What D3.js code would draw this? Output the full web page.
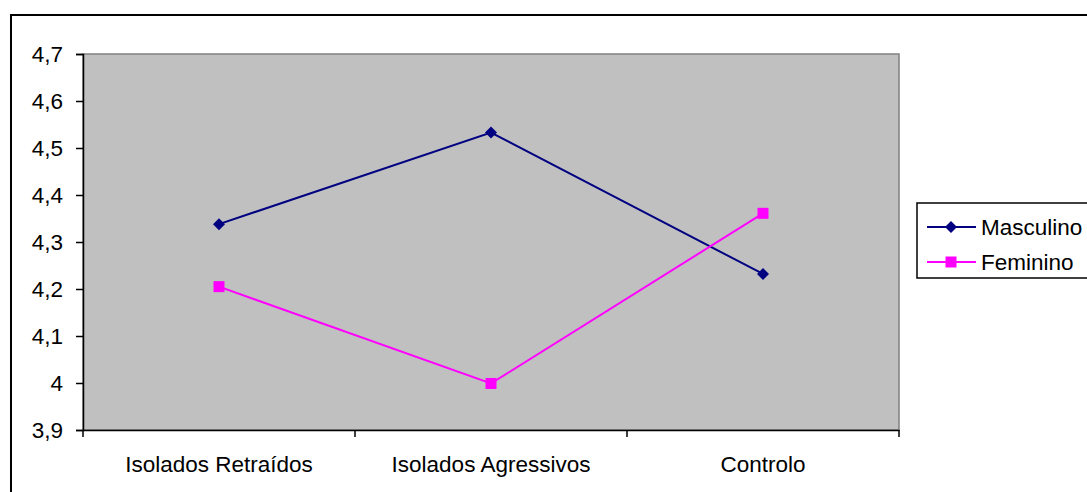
<!DOCTYPE html>
<html><head><meta charset="utf-8">
<script src="https://cdn.jsdelivr.net/npm/d3@7"></script>
<style>body{margin:0;background:#fff;}svg{display:block;font-family:"Liberation Sans",Arial,sans-serif;}</style>
</head><body>
<script>
const categories = ["Isolados Retraídos", "Isolados Agressivos", "Controlo"];
const masculino = [4.338, 4.533, 4.232];
const feminino = [4.205, 3.999, 4.361];
const yTicks = [3.9, 4.0, 4.1, 4.2, 4.3, 4.4, 4.5, 4.6, 4.7];
const seriesNames = ["Masculino", "Feminino"];

const W = 1087, H = 492;
const svg = d3.select("body").append("svg").attr("width", W).attr("height", H);
svg.append("rect").attr("x", 11).attr("y", 15).attr("width", W).attr("height", H).attr("fill", "#fff").attr("stroke", "#000").attr("stroke-width", 2);

const L = 83, R = 899, T = 54, B = 430;
const x = d3.scaleBand().domain(categories).range([L, R]);
const y = d3.scaleLinear().domain([3.9, 4.7]).range([B, T]);
const FS = 22.5;

svg.append("rect").attr("x", L).attr("y", T).attr("width", R - L).attr("height", B - T).attr("fill", "#c0c0c0").attr("stroke", "#808080").attr("stroke-width", 1.5);

const fmt = d => d3.format(".1f")(d).replace(".0", "").replace(".", ",");
const yAxis = svg.append("g").attr("transform", `translate(${L},0)`)
  .call(d3.axisLeft(y).tickValues(yTicks).tickFormat(fmt).tickSize(7).tickPadding(13));
yAxis.select(".domain").attr("stroke", "#000").attr("stroke-width", 1.5);
yAxis.selectAll("line").attr("stroke", "#000").attr("stroke-width", 1.5);
yAxis.selectAll("text").attr("font-size", FS).attr("fill", "#000").attr("font-family", "Liberation Sans, Arial, sans-serif");

const xAxis = svg.append("g").attr("transform", `translate(0,${B})`)
  .call(d3.axisBottom(x).tickSize(0).tickPadding(26));
xAxis.select(".domain").attr("stroke", "#000").attr("stroke-width", 1.5);
xAxis.selectAll("text").attr("font-size", FS).attr("fill", "#000").attr("font-family", "Liberation Sans, Arial, sans-serif");
// boundary ticks
const bounds = categories.map(c => x(c)).concat([R]);
svg.append("g").selectAll("line").data(bounds).join("line")
  .attr("x1", d => d).attr("x2", d => d).attr("y1", B).attr("y2", B + 7)
  .attr("stroke", "#000").attr("stroke-width", 1.5);

const cx = c => x(c) + x.bandwidth() / 2;
const line = d3.line().x((d, i) => cx(categories[i])).y(d => y(d));

svg.append("path").datum(masculino).attr("d", line).attr("fill", "none").attr("stroke", "#000080").attr("stroke-width", 2);
svg.append("path").datum(feminino).attr("d", line).attr("fill", "none").attr("stroke", "#ff00ff").attr("stroke-width", 2);

const diamond = (g, px, py, s) => g.append("path").attr("d", `M${px},${py - s}L${px + s},${py}L${px},${py + s}L${px - s},${py}Z`).attr("fill", "#000080");
masculino.forEach((v, i) => diamond(svg, cx(categories[i]), y(v), 6));
svg.selectAll(".sq").data(feminino).join("rect").attr("class", "sq")
  .attr("x", (d, i) => cx(categories[i]) - 5.5).attr("y", d => y(d) - 5.5)
  .attr("width", 11).attr("height", 11).attr("fill", "#ff00ff");

// legend
const lg = svg.append("g");
lg.append("rect").attr("x", 917).attr("y", 203).attr("width", 180).attr("height", 75).attr("fill", "#fff").attr("stroke", "#000").attr("stroke-width", 1.5);
const rows = [{n: seriesNames[0], c: "#000080", y: 227}, {n: seriesNames[1], c: "#ff00ff", y: 262}];
rows.forEach((r, i) => {
  lg.append("line").attr("x1", 927).attr("x2", 976).attr("y1", r.y).attr("y2", r.y).attr("stroke", r.c).attr("stroke-width", 2);
  if (i === 0) diamond(lg, 951, r.y, 6);
  else lg.append("rect").attr("x", 951 - 5.5).attr("y", r.y - 5.5).attr("width", 11).attr("height", 11).attr("fill", r.c);
  lg.append("text").attr("x", 981).attr("y", r.y).attr("dy", "0.35em").attr("font-size", FS).text(r.n);
});
</script>
</body></html>
